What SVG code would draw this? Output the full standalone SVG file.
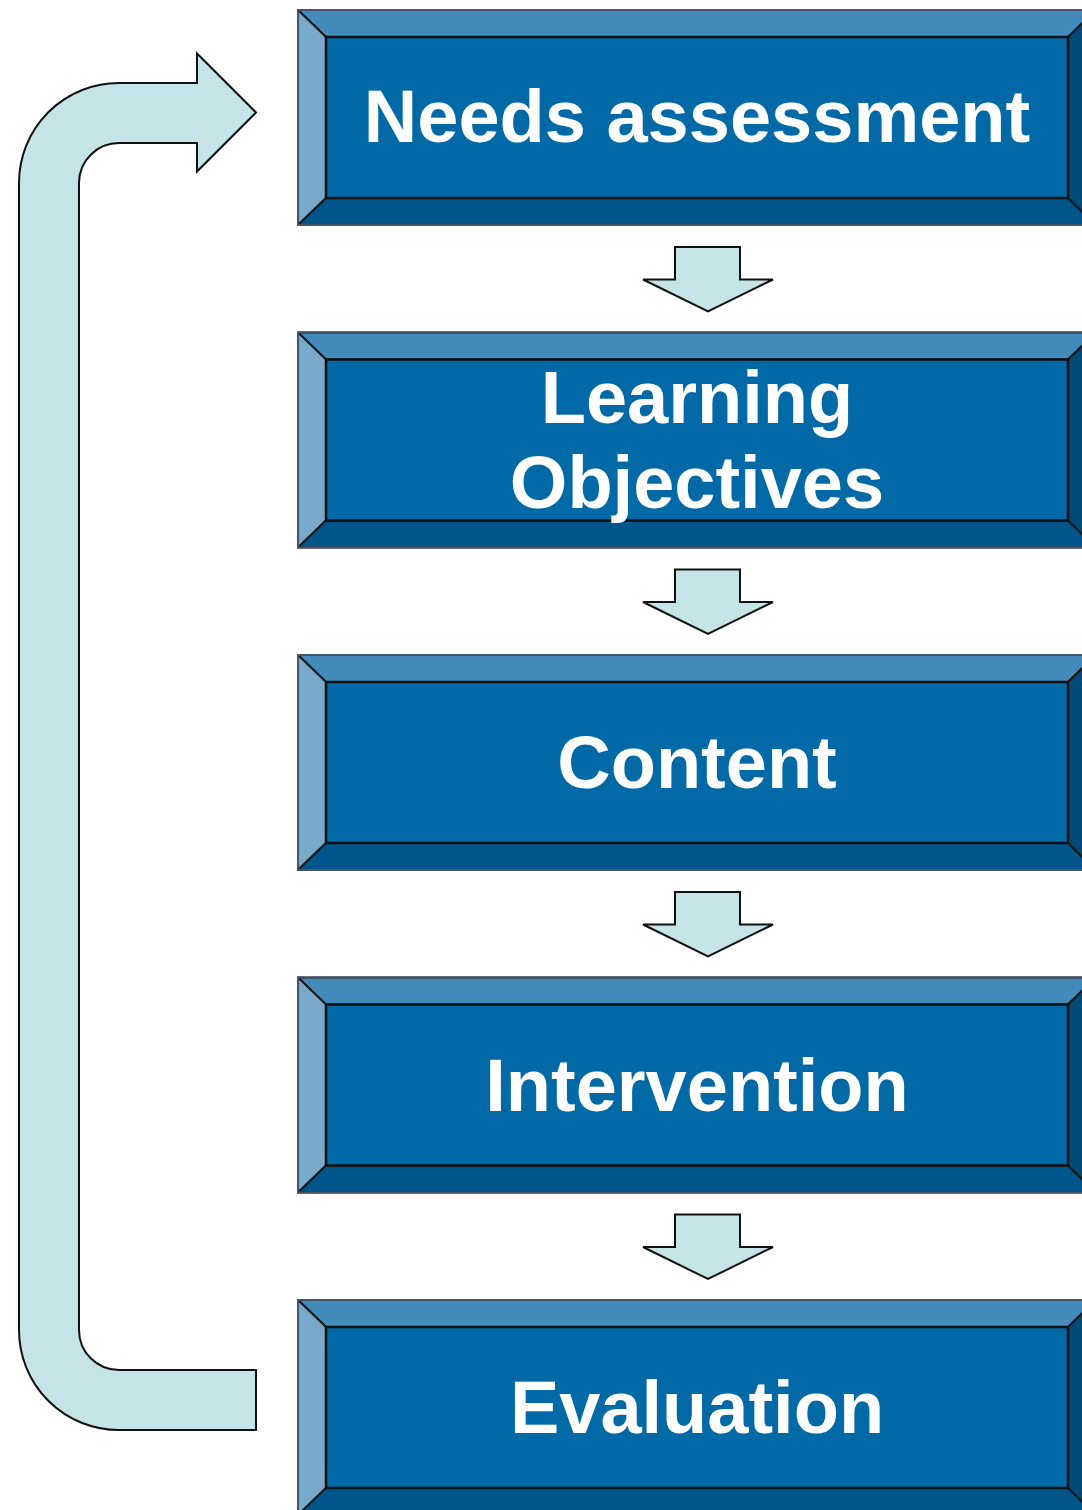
<svg xmlns="http://www.w3.org/2000/svg" width="1082" height="1510" viewBox="0 0 1082 1510">
<style>
.top{fill:#428bbb;stroke:#1a1a1a;stroke-width:2;stroke-linejoin:round}
.left{fill:#78a9cb;stroke:#1a1a1a;stroke-width:2;stroke-linejoin:round}
.bot{fill:#00558a;stroke:#1a1a1a;stroke-width:2;stroke-linejoin:round}
.right{fill:#004a78;stroke:#1a1a1a;stroke-width:2;stroke-linejoin:round}
.face{fill:#0069a6;stroke:#111;stroke-width:2.5}
.frame{fill:none;stroke:#46546a;stroke-width:2}
.lbl{font-family:"Liberation Sans",Arial,sans-serif;font-weight:bold;font-size:74px;fill:#fff;text-anchor:middle}
.arr{fill:#c4e4e7;stroke:#111;stroke-width:2;stroke-linejoin:miter}
</style>
<defs>
<g id="bevel">
<polygon class="top" points="0,0 798,0 770,27 28,27"/>
<polygon class="left" points="0,0 28,27 28,188 0,215"/>
<polygon class="bot" points="0,215 28,188 770,188 798,215"/>
<polygon class="right" points="798,0 770,27 770,188 798,215"/>
<rect class="face" x="28" y="27" width="742" height="161"/>
<rect class="frame" x="0" y="0" width="798" height="215"/>
</g>
<polygon id="down" class="arr" points="675,0 740,0 740,32.5 773,32.5 708,64.5 643,32.5 675,32.5"/>
</defs>
<g id="connectors">
<use href="#down" y="247"/>
<use href="#down" y="569.5"/>
<use href="#down" y="892"/>
<use href="#down" y="1214.5"/>
<path class="arr" d="M256,1430 L119,1430 A100,100 0 0 1 19,1330 L19,183 A100,100 0 0 1 119,83 L197,83 L197,53.5 L256,112.5 L197,171.5 L197,143 L119,143 A40,40 0 0 0 79,183 L79,1330 A40,40 0 0 0 119,1370 L256,1370 Z"/>
</g>
<g id="node-needs">
<use href="#bevel" x="298" y="10"/>
<text class="lbl" x="697" y="142">Needs assessment</text>
</g>
<g id="node-objectives">
<use href="#bevel" x="298" y="332.5"/>
<text class="lbl" x="697" y="423">Learning</text>
<text class="lbl" x="697" y="508">Objectives</text>
</g>
<g id="node-content">
<use href="#bevel" x="298" y="655"/>
<text class="lbl" x="697" y="788">Content</text>
</g>
<g id="node-intervention">
<use href="#bevel" x="298" y="977.5"/>
<text class="lbl" x="697" y="1110.5">Intervention</text>
</g>
<g id="node-evaluation">
<use href="#bevel" x="298" y="1300"/>
<text class="lbl" x="697" y="1433">Evaluation</text>
</g>
</svg>
